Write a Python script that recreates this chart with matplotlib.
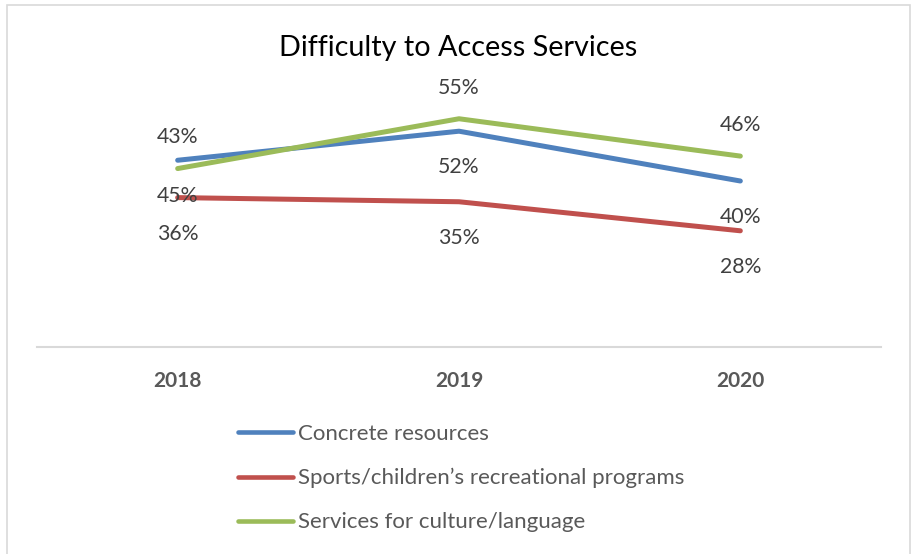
import matplotlib
matplotlib.use("Agg")
import matplotlib.pyplot as plt
from matplotlib.patches import Rectangle

plt.rcParams['font.family'] = ['Lato', 'DejaVu Sans']

years = ["2018", "2019", "2020"]
concrete = [45, 52, 40]
sports = [36, 35, 28]
culture = [43, 55, 46]
series_names = ["Concrete resources",
                "Sports/children\u2019s recreational programs",
                "Services for culture/language"]
colors = ["#4F81BD", "#C0504D", "#9BBB59"]
label_offsets = [-26, -26, 22.5]  # points: below, below, above

W, H = 911, 554
fig = plt.figure(figsize=(W / 100, H / 100), dpi=100)

# chart border
fig.patches.append(Rectangle((7 / W, -0.01), (910 - 7) / W, (H - 5) / H + 0.01,
                             transform=fig.transFigure, fill=False,
                             edgecolor="#d9d9d9", linewidth=1.2))

ymax = 60
px_per = 4.15
ax_left, ax_right = 37, 881
ax_bottom = 347
ax_top = ax_bottom - ymax * px_per
ax = fig.add_axes([ax_left / W, (H - ax_bottom) / H,
                   (ax_right - ax_left) / W, (ax_bottom - ax_top) / H])
ax.set_xlim(-0.5, len(years) - 0.5)
ax.set_ylim(0, ymax)
ax.patch.set_alpha(0)

x = list(range(len(years)))
for vals, name, c, off in zip([concrete, sports, culture], series_names, colors, label_offsets):
    ax.plot(x, vals, color=c, lw=3.6, solid_capstyle='round', solid_joinstyle='round',
            label=name)
    for xi, v in zip(x, vals):
        ax.annotate(f"{v}%", (xi, v), xytext=(0, off), textcoords="offset points",
                    ha="center", va="center", fontsize=15.3, color="#404040")

for s in ["top", "right", "left"]:
    ax.spines[s].set_visible(False)
ax.spines["bottom"].set_color("#d9d9d9")
ax.spines["bottom"].set_linewidth(1.5)
ax.set_yticks([])
ax.set_xticks(x)
ax.set_xticklabels(years, fontsize=15, fontweight="bold", color="#595959")
ax.tick_params(axis="x", length=0, pad=17.2)

fig.text(458 / W, 1 - 48 / H, "Difficulty to Access Services", ha="center", va="center",
         fontsize=20.7, color="#000000")

fs = 16
fs_px = fs * 100 / 72
leg = fig.legend(loc="upper left", bbox_to_anchor=(238 / W, 1 - 424 / H),
                 frameon=False, fontsize=fs, borderpad=0, borderaxespad=0,
                 handlelength=55 / fs_px, handletextpad=5 / fs_px,
                 labelspacing=1.08)
for t in leg.get_texts():
    t.set_color("#595959")
for l in leg.get_lines():
    l.set_linewidth(3.3)
    l.set_solid_capstyle('round')

fig.savefig("out.png", dpi=100)
